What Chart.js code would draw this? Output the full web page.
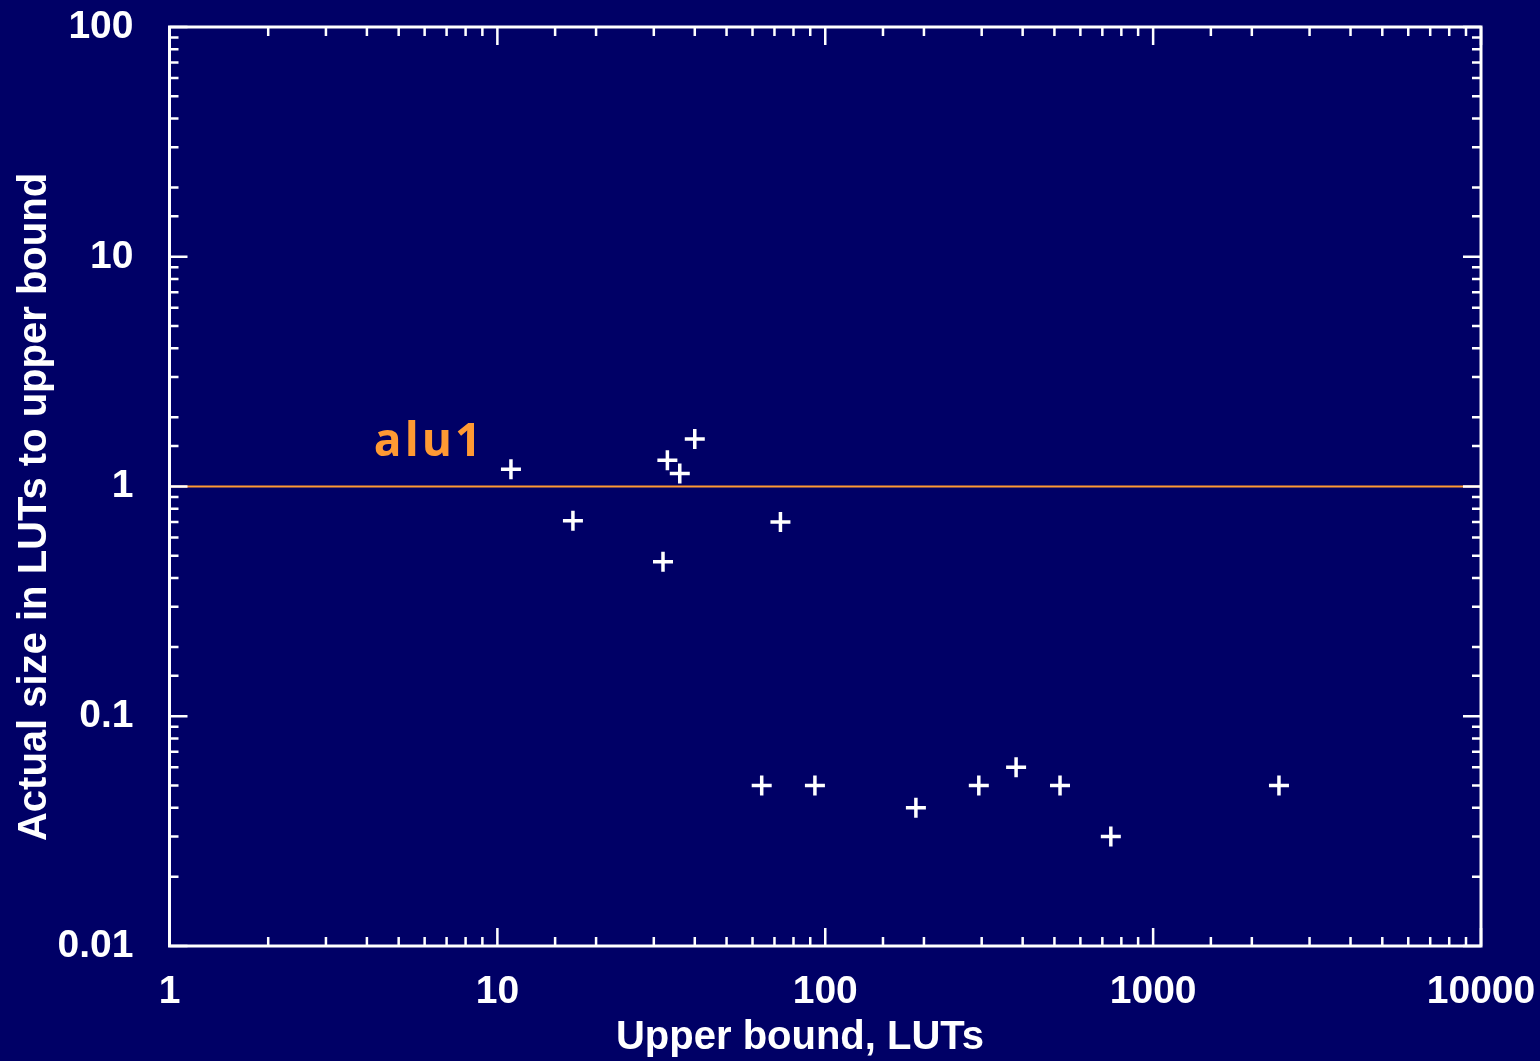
<!DOCTYPE html>
<html>
<head>
<meta charset="utf-8">
<script src="https://cdn.jsdelivr.net/npm/chart.js@4/dist/chart.umd.min.js"></script>
<style>
  html, body { margin: 0; padding: 0; background: #000066; }
  #wrap { width: 1540px; height: 1061px; }
</style>
</head>
<body>
<div id="wrap"><canvas id="chart" width="1540" height="1061"></canvas></div>
<script>
// Data
const upperBound = [11, 17, 32, 33, 36, 40, 73, 64, 93, 189, 294, 382, 520, 743, 2420];
const ratio = [1.19, 0.71, 0.47, 1.30, 1.14, 1.61, 0.70, 0.05, 0.05, 0.04, 0.05, 0.06, 0.05, 0.03, 0.05];

const xTickLabels = ['1', '10', '100', '1000', '10000'];
const yTickLabels = ['0.01', '0.1', '1', '10', '100'];

const refLine = [1, 1];
const refLineX = [1, 10000];
const refLabel = 'alu1';

const xTitle = 'Upper bound, LUTs';
const yTitle = 'Actual size in LUTs to upper bound';

const BG = '#000066';
const FG = '#ffffff';
const ORANGE = '#ff9933';
const FONT = '"Liberation Sans", Arial, sans-serif';

function isMajor(v) {
    const l = Math.log10(v);
    return Math.abs(l - Math.round(l)) < 1e-9;
}

// background, frame, inward ticks, titles and the line label
const decorPlugin = {
    id: 'decor',
    beforeDraw(chart) {
        const ctx = chart.ctx;
        ctx.save();
        ctx.fillStyle = BG;
        ctx.fillRect(0, 0, chart.width, chart.height);
        ctx.restore();
    },
    afterDraw(chart) {
        const ctx = chart.ctx;
        const a = chart.chartArea;
        const xs = chart.scales.x, ys = chart.scales.y;
        ctx.save();
        ctx.strokeStyle = FG;
        ctx.lineWidth = 2.5;
        ctx.beginPath();
        xs.ticks.forEach(t => {
            const p = xs.getPixelForValue(t.value);
            const len = isMajor(t.value) ? 18 : 9;
            ctx.moveTo(p, a.bottom); ctx.lineTo(p, a.bottom - len);
            ctx.moveTo(p, a.top); ctx.lineTo(p, a.top + len);
        });
        ys.ticks.forEach(t => {
            const p = ys.getPixelForValue(t.value);
            const len = isMajor(t.value) ? 18 : 9;
            ctx.moveTo(a.left, p); ctx.lineTo(a.left + len, p);
            ctx.moveTo(a.right, p); ctx.lineTo(a.right - len, p);
        });
        ctx.stroke();
        ctx.lineWidth = 3;
        ctx.strokeRect(a.left, a.top, a.right - a.left, a.bottom - a.top);

        // axis titles
        ctx.fillStyle = FG;
        ctx.font = 'bold 40px ' + FONT;
        ctx.textAlign = 'center';
        ctx.textBaseline = 'middle';
        ctx.fillText(xTitle, 800, 1038);
        ctx.translate(35, 507);
        ctx.rotate(-Math.PI / 2);
        ctx.fillText(yTitle, 0, 0);
        ctx.restore();

        // reference line label
        ctx.save();
        ctx.fillStyle = ORANGE;
        ctx.font = 'bold 46px "Open Sans", "Noto Sans", sans-serif';
        ctx.letterSpacing = '3px';
        ctx.textAlign = 'left';
        ctx.textBaseline = 'alphabetic';
        ctx.fillText(refLabel, xs.getPixelForValue(4.2), ys.getPixelForValue(1.36));
        ctx.restore();
    }
};

new Chart(document.getElementById('chart'), {
    data: {
        datasets: [
            {
                type: 'line',
                data: refLineX.map((x, i) => ({ x: x, y: refLine[i] })),
                borderColor: ORANGE,
                borderWidth: 2,
                pointRadius: 0,
                fill: false
            },
            {
                type: 'scatter',
                data: upperBound.map((x, i) => ({ x: x, y: ratio[i] })),
                pointStyle: 'cross',
                pointRadius: 10,
                pointBorderWidth: 3.5,
                borderWidth: 3.5,
                borderColor: FG,
                backgroundColor: FG
            }
        ]
    },
    options: {
        responsive: false,
        animation: false,
        layout: { padding: { top: 27, right: 59, left: 0, bottom: 0 } },
        plugins: {
            legend: { display: false },
            tooltip: { enabled: false }
        },
        scales: {
            x: {
                type: 'logarithmic',
                min: 1,
                max: 10000,
                grid: { display: false, drawTicks: false },
                border: { display: false },
                ticks: {
                    autoSkip: false,
                    maxRotation: 0,
                    padding: 23,
                    color: FG,
                    font: { family: FONT, size: 39, weight: 'bold' },
                    callback: v => isMajor(v) ? xTickLabels[Math.round(Math.log10(v))] : ''
                },
                afterFit: s => { s.height = 115; s.paddingLeft = 0; s.paddingRight = 0; }
            },
            y: {
                type: 'logarithmic',
                min: 0.01,
                max: 100,
                grid: { display: false, drawTicks: false },
                border: { display: false },
                ticks: {
                    autoSkip: false,
                    padding: 36,
                    color: FG,
                    font: { family: FONT, size: 39, weight: 'bold' },
                    callback: v => isMajor(v) ? yTickLabels[Math.round(Math.log10(v)) + 2] : ''
                },
                afterFit: s => { s.width = 169.5; s.paddingTop = 0; s.paddingBottom = 0; }
            }
        }
    },
    plugins: [decorPlugin]
});
</script>
</body>
</html>
